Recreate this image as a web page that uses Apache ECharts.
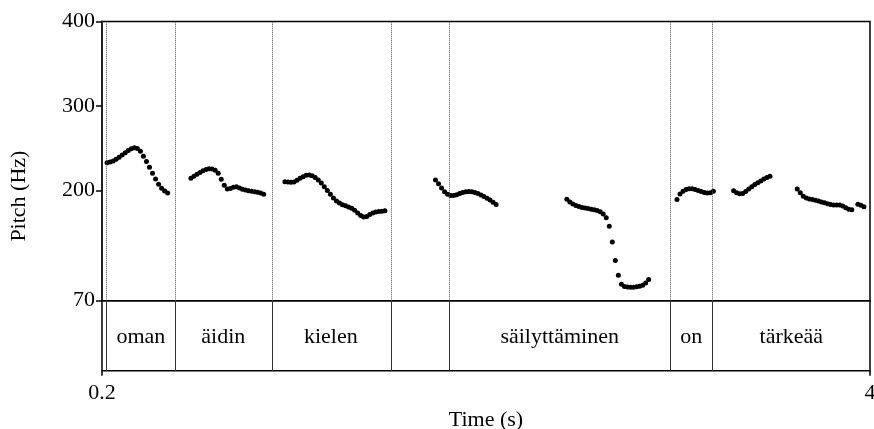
<!DOCTYPE html>
<html>
<head>
<meta charset="utf-8">
<script src="https://cdn.jsdelivr.net/npm/echarts@6/dist/echarts.min.js"></script>
<style>
html,body{margin:0;padding:0;background:#fff;}
#chart{width:874px;height:429px;}
</style>
</head>
<body>
<div id="chart"></div>
<script>
// Pitch frames (Hz), frame step in seconds
const frameStep = 0.015;
const omanStart = 0.225;
const omanHz = [233,233.8,235,237.2,239.6,242.3,244.9,247.5,249.6,250.9,250,246.5,240.8,234.6,227.6,220.6,213.8,207.6,202.8,199.6,197.2];
const aidinStart = 0.640;
const aidinHz = [214.8,217.2,219.4,221.5,223.5,225,225.9,225.8,224.3,220.6,213.5,206.5,202,202.6,204,204.7,203.3,201.7,200.8,200,199.5,198.9,198.2,197.4,195.8];
const kielenStart = 1.105;
const kielenHz = [210.6,210.3,210,210.3,212.4,214.6,216.6,218.2,218.6,217.6,215.7,212.6,209.1,204.8,200.3,195.8,191.4,187.8,185.4,183.5,182.1,180.8,179.3,177,173.8,170.8,168.8,169.6,172,173.8,174.8,175.3,175.8,176.3];
const sail1Start = 1.850;
const sail1Hz = [212.7,208.2,203.2,198.9,195.8,194.4,194.4,195.3,196.6,197.8,198.7,199.1,198.9,198,196.6,195,193.1,191.1,188.9,186.4,183.8];
const sail2Start = 2.500;
const sail2Hz = [189.8,186.6,184.2,182.4,181.2,180.2,179.5,178.9,178.2,177.4,176.5,175,172.6,168,158,139.5,117.5,100,89.5,86.8,86.2,86,86,86.4,87,88.2,90.8,95];
const onStart = 3.045;
const onHz = [189.5,196,199.3,201.3,202.4,202.3,201.4,200.2,199,198,197.3,197.6,199.3];
const tark1Start = 3.325;
const tark1Hz = [200,197.6,196.3,196.8,199,202,204.8,207.2,209.3,211.6,213.7,215.7,217.2];
const tark2Start = 3.640;
const tark2Hz = [202,197.5,193.5,191.3,190.2,189.5,188.6,187.7,186.8,185.8,184.7,183.6,183.2,183.1,183,181.8,180,178.2,177.4,null,183.9,182.8,181];

// Text tier
const tierBoundaries = [0.2, 0.2233, 0.5612, 1.0397, 1.6250, 1.9185, 3.0105, 3.2218, 4.0];
const tierWords = ['', 'oman', 'äidin', 'kielen', '', 'säilyttäminen', 'on', 'tärkeää'];

// Tick labels
const yTicks = [70, 200, 300, 400];
const xTicks = [0.2, 4];

const segments = [
  [omanStart, omanHz], [aidinStart, aidinHz], [kielenStart, kielenHz],
  [sail1Start, sail1Hz], [sail2Start, sail2Hz], [onStart, onHz],
  [tark1Start, tark1Hz], [tark2Start, tark2Hz]
];
const pitchData = [];
segments.forEach(([t0, vals]) => {
  vals.forEach((v, i) => { if (v !== null) pitchData.push([+(t0 + i * frameStep).toFixed(4), v]); });
});

const innerBounds = tierBoundaries.slice(1, -1);
const wordData = [];
tierWords.forEach((w, i) => {
  if (w) wordData.push([(tierBoundaries[i] + tierBoundaries[i + 1]) / 2, 0.5, w]);
});

const FONT = 'Liberation Serif';
const FS = 22;

const chart = echarts.init(document.getElementById('chart'), null, {renderer: 'canvas'});
chart.setOption({
  animation: false,
  backgroundColor: '#fff',
  grid: [
    {left: 102, right: 4, top: 21.5, height: 279.2, show: true, borderColor: '#000', borderWidth: 1.5, backgroundColor: 'transparent', outerBoundsMode: 'none', containLabel: false},
    {left: 102, right: 4, top: 300.7, height: 70, show: true, borderColor: '#000', borderWidth: 1.5, backgroundColor: 'transparent', outerBoundsMode: 'none', containLabel: false},
    {left: 102, right: 4, top: 21.5, height: 349.2, show: false, outerBoundsMode: 'none', containLabel: false}
  ],
  xAxis: [
    {gridIndex: 0, type: 'value', min: 0.2, max: 4, show: false},
    {gridIndex: 1, type: 'value', min: 0.2, max: 4,
      axisLine: {show: false},
      axisTick: {show: true, customValues: xTicks, length: 5, lineStyle: {color: '#000', width: 1.5}},
      axisLabel: {customValues: xTicks, fontFamily: FONT, fontSize: FS, color: '#000', margin: 12},
      splitLine: {show: false},
      name: 'Time (s)', nameLocation: 'middle', nameGap: 39,
      nameTextStyle: {fontFamily: FONT, fontSize: FS, color: '#000'}
    },
    {gridIndex: 2, type: 'value', min: 0, max: 1, show: false}
  ],
  yAxis: [
    {gridIndex: 0, type: 'value', min: 70, max: 400,
      axisLine: {show: true, lineStyle: {color: '#222', width: 2}},
      axisTick: {show: true, customValues: yTicks, length: 6, lineStyle: {color: '#000', width: 1.5}},
      axisLabel: {customValues: yTicks, fontFamily: FONT, fontSize: FS, color: '#000', margin: 7},
      splitLine: {show: false}
    },
    {gridIndex: 1, type: 'value', min: 0, max: 1, show: false},
    {gridIndex: 2, type: 'value', min: 0, max: 1,
      axisLine: {show: false}, axisTick: {show: false}, axisLabel: {show: false}, splitLine: {show: false},
      name: 'Pitch (Hz)', nameLocation: 'middle', nameGap: 72,
      nameTextStyle: {fontFamily: FONT, fontSize: FS, color: '#000'}
    }
  ],
  series: [
    {
      type: 'scatter', xAxisIndex: 0, yAxisIndex: 0, data: pitchData,
      symbol: 'circle', symbolSize: 5, itemStyle: {color: '#000', opacity: 1}, silent: true,
      markLine: {
        silent: true, symbol: ['none', 'none'], label: {show: false},
        lineStyle: {type: [1, 1], color: '#555', width: 1, opacity: 1},
        data: innerBounds.map(b => ({xAxis: b}))
      }
    },
    {
      type: 'scatter', xAxisIndex: 1, yAxisIndex: 1, data: wordData,
      symbolSize: 0.01, itemStyle: {color: '#000', opacity: 1}, silent: true,
      label: {show: true, position: 'inside', offset: [0, 2], formatter: p => p.value[2], fontFamily: FONT, fontSize: FS, color: '#000', opacity: 1},
      markLine: {
        silent: true, symbol: ['none', 'none'], label: {show: false},
        lineStyle: {type: 'solid', color: '#333', width: 1, opacity: 1},
        data: innerBounds.map(b => ({xAxis: b}))
      }
    }
  ]
});
</script>
</body>
</html>
